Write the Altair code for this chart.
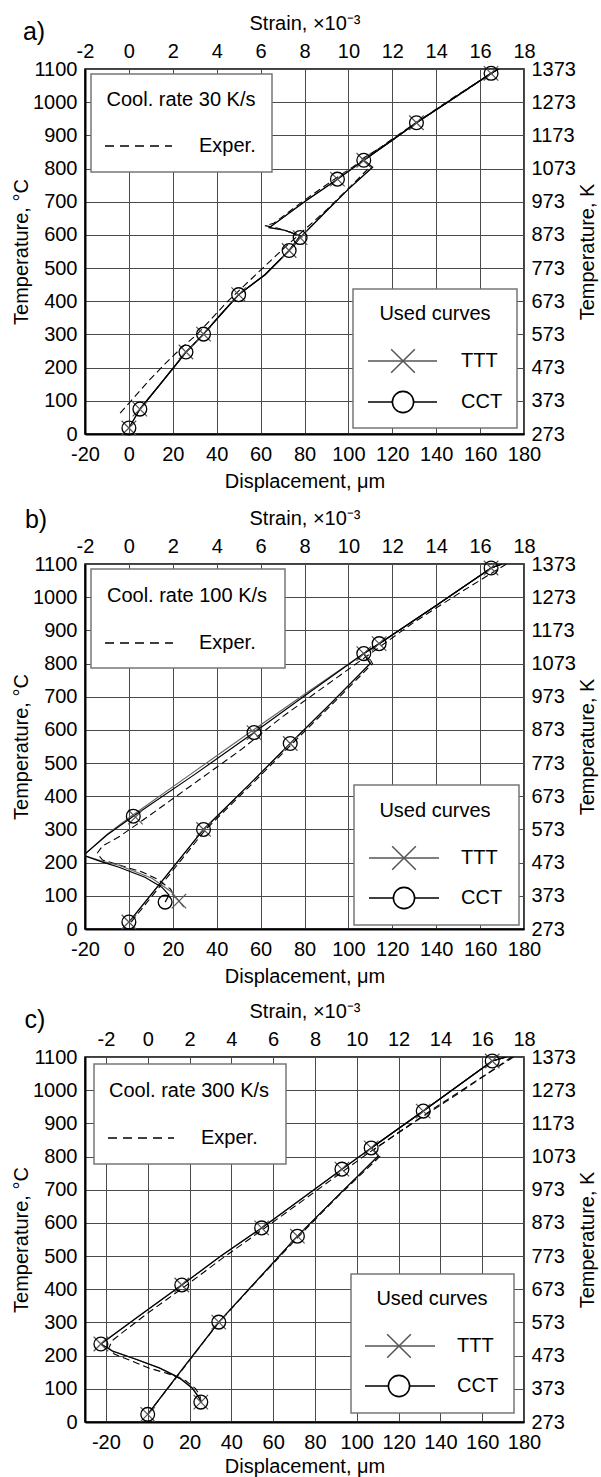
import altair as alt
import pandas as pd

FONT = "Liberation Sans"
FS = 20

# ---------------- panel a: cooling rate 30 K/s ----------------
A_HEAT_X = [0, 5, 13, 20, 26, 34, 42, 50, 62, 73, 78, 90, 100, 111, 107, 120, 131, 148, 165, 168.5]
A_HEAT_T = [18, 75, 140, 197, 247, 301, 362, 420, 480, 553, 592, 672, 738, 804, 825, 885, 938, 1012, 1087, 1100]
A_COOL_X = [168.5, 165, 131, 107, 95, 80, 64, 71, 78, 73, 62, 50, 34, 26, 13, 5]
A_COOL_T = [1100, 1087, 938, 825, 768, 700, 622, 614, 597, 553, 480, 420, 301, 247, 140, 75]
A_EXP_HEAT_X = [-4, 1, 9, 17, 24, 31, 38, 45, 53, 61, 69, 76, 90, 100, 110, 106, 120, 131, 148, 166]
A_EXP_HEAT_T = [63, 100, 160, 215, 260, 300, 350, 400, 450, 500, 550, 592, 675, 740, 806, 828, 885, 938, 1012, 1090]
A_EXP_COOL_X = [166, 148, 130, 117, 105, 93, 79, 66, 62, 68, 76, 80]
A_EXP_COOL_T = [1090, 1015, 935, 875, 818, 765, 700, 635, 628, 620, 603, 590]
A_MARK_X = [0, 5, 26, 34, 50, 73, 78, 95, 107, 131, 165]
A_MARK_T = [18, 75, 247, 301, 420, 553, 592, 768, 825, 938, 1087]

# ---------------- panel b: cooling rate 100 K/s ----------------
B_HEAT_X = [0, 17, 34, 54, 73.5, 92, 110, 107, 114, 140, 165, 170]
B_HEAT_T = [21, 160, 300, 430, 559, 680, 800, 830, 860, 975, 1088, 1100]
B_CCT_COOL_X = [170, 165, 140, 114, 107, 82, 57, 30, 2, -10, -20.7, -13, -4.5, 7.3, 15, 18.3, 16.5]
B_CCT_COOL_T = [1100, 1088, 975, 860, 830, 712, 592, 466, 340, 283, 222, 204, 186, 156, 126, 102, 81]
B_TTT_COOL_X = [170, 165, 140, 114, 107, 81, 55, 28, 1, -10, -20.7, -12, -4.5, 10.5, 19.6, 25]
B_TTT_COOL_T = [1100, 1088, 975, 860, 830, 712, 592, 466, 340, 285, 222, 204, 192, 153, 111, 66]
B_EXP_HEAT_X = [1, 18, 35, 55, 74.5, 93, 111, 109]
B_EXP_HEAT_T = [21, 160, 300, 430, 559, 680, 800, 822]
B_EXP_COOL_X = [172, 150, 130, 110, 90, 70, 51, 30, 10, -4, -12, -14.5, -12, -4, 6, 13, 19, 21]
B_EXP_COOL_T = [1100, 1010, 925, 830, 735, 640, 540, 440, 345, 280, 250, 228, 208, 192, 172, 150, 120, 95]
B_CIRC_X = [0, 34, 73.5, 57, 2, 16.5, 107, 114, 165]
B_CIRC_T = [21, 300, 559, 592, 340, 81, 830, 860, 1088]
B_CROSS_X = [0, 34, 73.5, 57, 3, 22.8, 107, 114, 165]
B_CROSS_T = [21, 300, 559, 592, 337, 84, 830, 860, 1088]

# ---------------- panel c: cooling rate 300 K/s ----------------
C_HEAT_X = [0, 17, 34, 53, 71.6, 91, 110.3, 107, 131.8, 164.8, 171.6]
C_HEAT_T = [23, 163, 301, 432, 560, 682, 802, 826, 937, 1088, 1100]
C_CCT_COOL_X = [171.6, 164.8, 131.8, 106.9, 92.9, 73, 54.5, 35, 16.3, -3, -22.4, -17, -6, 5.5, 15, 21.3, 24.6, 25.4]
C_CCT_COOL_T = [1100, 1088, 937, 826, 762, 670, 585, 500, 413, 325, 235, 214, 190, 163, 133, 102, 72, 60]
C_TTT_COOL_X = [171.6, 164.8, 131.8, 106.9, 92.9, 73, 54.5, 35, 16.3, -3, -22.4, -16, -5, 6, 15.5, 21.5, 24.8, 26]
C_TTT_COOL_T = [1100, 1088, 937, 826, 762, 670, 585, 500, 413, 325, 235, 212, 188, 162, 133, 102, 72, 58]
C_EXP_HEAT_X = [0, 17, 34, 53, 72, 91, 111, 108, 125, 145, 165, 174]
C_EXP_HEAT_T = [23, 161, 300, 430, 558, 680, 800, 820, 893, 975, 1060, 1100]
C_EXP_COOL_X = [175, 160, 140, 120, 105, 90, 73, 55, 35, 17, 0, -12, -17, -18.6, -16, 0.5, 10, 18, 23, 25, 25.5]
C_EXP_COOL_T = [1100, 1040, 958, 873, 808, 740, 662, 580, 490, 405, 328, 270, 245, 223, 205, 163, 145, 125, 100, 78, 62]
C_MARK_X = [0, 34, 71.6, 54.5, 16.3, -22.4, 25.4, 92.9, 106.9, 131.8, 164.8]
C_MARK_T = [23, 301, 560, 585, 413, 235, 60, 762, 826, 937, 1088]

TEMP_C_TICKS = list(range(0, 1101, 100))
TEMP_K_TICKS = list(range(273, 1374, 100))
STRAIN_TICKS = list(range(-2, 19, 2))
DISP_TICKS = list(range(-20, 181, 20))

X_SHAPE = "M-1,-1L1,1M-1,1L1,-1"
DUMMY = pd.DataFrame({"k": [0]})
PLAIN = "toString(datum.value)"  # plain hyphen for negative tick labels


def curves(*segments):
    rows = []
    for seg, (xs, ts) in enumerate(segments):
        for i, (x, t) in enumerate(zip(xs, ts)):
            rows.append({"seg": seg, "i": i, "disp": x, "temp": t})
    return pd.DataFrame(rows)


def points(xs, ts):
    return pd.DataFrame({"disp": xs, "temp": ts})


def panel(letter, rate, cct, ttt, exp, circ, cross, xdom, sdom, lay, bottom_pad=7):
    xscale = alt.Scale(domain=xdom, nice=False, zero=False)
    yscale = alt.Scale(domain=[0, 1100], nice=False, zero=False)
    xaxis = alt.Axis(orient="bottom", values=DISP_TICKS, title="Displacement, μm",
                     labelExpr=PLAIN, grid=True, gridColor="#4a4a4a", gridWidth=1,
                     ticks=False, labelPadding=10, titlePadding=bottom_pad, labelFlush=False,
                     labelOverlap=False, domainColor="black", domainWidth=2)
    yaxis = alt.Axis(orient="left", values=TEMP_C_TICKS, title="Temperature, °C",
                     labelExpr=PLAIN, grid=True, gridColor="#4a4a4a", gridWidth=1,
                     ticks=False, labelPadding=8, titlePadding=1, labelFlush=False,
                     labelOverlap=False, domainColor="black", domainWidth=2)
    enc = dict(x=alt.X("disp:Q", scale=xscale, axis=xaxis),
               y=alt.Y("temp:Q", scale=yscale, axis=yaxis))

    def line(df, color, width=1.2, dash=None):
        kw = dict(color=color, strokeWidth=width, clip=True)
        if dash:
            kw["strokeDash"] = dash
        return alt.Chart(df).mark_line(**kw).encode(detail="seg:N", order="i:Q", **enc)

    layers = [
        line(exp, "black", 1.1, [7, 4]),
        line(ttt, "#666666", 1.2),
        line(cct, "black", 1.2),
        alt.Chart(cross).mark_point(shape=X_SHAPE, filled=False, size=210,
                                    stroke="#555555", strokeWidth=1.2, opacity=1).encode(**enc),
        alt.Chart(circ).mark_point(shape="circle", filled=False, size=190,
                                   stroke="black", strokeWidth=1.3, opacity=1).encode(**enc),
    ]

    def box(x1, x2, y1, y2):
        return alt.Chart(DUMMY).mark_rect(fill="white", stroke="#777777", strokeWidth=1.5).encode(
            x=alt.value(x1), x2=alt.value(x2), y=alt.value(y1), y2=alt.value(y2))

    def text(s, x, y, align="center", size=FS):
        return alt.Chart(DUMMY).mark_text(text=s, font=FONT, fontSize=size, align=align,
                                          baseline="middle", color="black").encode(
            x=alt.value(x), y=alt.value(y))

    def hrule(x1, x2, y, color="black", dash=None, width=1.3):
        kw = dict(color=color, strokeWidth=width)
        if dash:
            kw["strokeDash"] = dash
        return alt.Chart(DUMMY).mark_rule(**kw).encode(
            x=alt.value(x1), x2=alt.value(x2), y=alt.value(y))

    (b1x1, b1x2, b1y1, b1y2, tcx, tcy, dx1, dx2, dy, ex) = lay["box1"]
    (b2x1, b2x2, b2y1, b2y2, ucx, ucy, lx1, lx2, mx, ty, cy, tx) = lay["box2"]
    layers += [
        box(b1x1, b1x2, b1y1, b1y2),
        text(f"Cool. rate {rate} K/s", tcx, tcy),
        hrule(dx1, dx2, dy, dash=[9, 6], width=1.3),
        text("Exper.", ex, dy, align="left"),
        box(b2x1, b2x2, b2y1, b2y2),
        text("Used curves", ucx, ucy),
        hrule(lx1, lx2, ty, color="#555555"),
        alt.Chart(DUMMY).mark_point(shape=X_SHAPE, filled=False, size=560, stroke="#555555",
                                    strokeWidth=1.5, opacity=1).encode(
            x=alt.value(mx), y=alt.value(ty)),
        text("TTT", tx, ty, align="left"),
        hrule(lx1, lx2, cy, color="black"),
        alt.Chart(DUMMY).mark_point(shape="circle", filled=True, fill="white", size=450,
                                    stroke="black", strokeWidth=1.6, opacity=1).encode(
            x=alt.value(mx), y=alt.value(cy)),
        text("CCT", tx, cy, align="left"),
        text(letter, lay["letter"][0], lay["letter"][1], size=25),
    ]
    inner = alt.layer(*layers)

    frame = pd.DataFrame({"s": sdom, "k": [273, 1373]})
    secondary = alt.Chart(frame).mark_point(opacity=0).encode(
        x=alt.X("s:Q", scale=alt.Scale(domain=sdom, nice=False, zero=False),
                axis=alt.Axis(orient="top", values=STRAIN_TICKS, title="Strain, ×10⁻³",
                              labelExpr=PLAIN, grid=False, ticks=False, labelPadding=8,
                              titlePadding=8, labelFlush=False, labelOverlap=False,
                              domain=False)),
        y=alt.Y("k:Q", scale=alt.Scale(domain=[273, 1373], nice=False, zero=False),
                axis=alt.Axis(orient="right", values=TEMP_K_TICKS, title="Temperature, K",
                              labelExpr=PLAIN, grid=False, ticks=False, labelPadding=7,
                              titlePadding=2, titleAngle=270, titleBaseline="top",
                              labelFlush=False, labelOverlap=False, domain=False)),
    )
    return alt.layer(inner, secondary).resolve_scale(
        x="independent", y="independent").properties(width=439, height=365)


pa = panel(
    "a)", 30,
    curves((A_HEAT_X, A_HEAT_T), (A_COOL_X, A_COOL_T)),
    curves((A_HEAT_X, A_HEAT_T), (A_COOL_X, A_COOL_T)),
    curves((A_EXP_HEAT_X, A_EXP_HEAT_T), (A_EXP_COOL_X, A_EXP_COOL_T)),
    points(A_MARK_X, A_MARK_T), points(A_MARK_X, A_MARK_T),
    [-20, 180], [-2, 18],
    {"box1": (6, 187, 5, 103, 96, 31, 20, 87, 77, 114),
     "box2": (268, 432, 220, 359, 350, 245, 283, 352, 318, 292, 333, 376),
     "letter": (-51, -37)},
)
pb = panel(
    "b)", 100,
    curves((B_HEAT_X, B_HEAT_T), (B_CCT_COOL_X, B_CCT_COOL_T)),
    curves((B_HEAT_X, B_HEAT_T), (B_TTT_COOL_X, B_TTT_COOL_T)),
    curves((B_EXP_HEAT_X, B_EXP_HEAT_T), (B_EXP_COOL_X, B_EXP_COOL_T)),
    points(B_CIRC_X, B_CIRC_T), points(B_CROSS_X, B_CROSS_T),
    [-20, 180], [-2, 18],
    {"box1": (6, 200, 5, 104, 102, 32, 20, 88, 79, 114),
     "box2": (269, 434, 221, 361, 350, 247, 284, 354, 319, 294, 334, 376),
     "letter": (-49, -44)},
)
pc = panel(
    "c)", 300,
    curves((C_HEAT_X, C_HEAT_T), (C_CCT_COOL_X, C_CCT_COOL_T)),
    curves((C_HEAT_X, C_HEAT_T), (C_TTT_COOL_X, C_TTT_COOL_T)),
    curves((C_EXP_HEAT_X, C_EXP_HEAT_T), (C_EXP_COOL_X, C_EXP_COOL_T)),
    points(C_MARK_X, C_MARK_T), points(C_MARK_X, C_MARK_T),
    [-30, 180], [-3, 18],
    {"box1": (9, 201, 7, 107, 104, 34, 23, 89, 81, 116),
     "box2": (266, 429, 217, 356, 347, 242, 280, 350, 314, 289, 329, 372),
     "letter": (-50, -37)},
    bottom_pad=4,
)

chart = alt.vconcat(alt.vconcat(pa, pb, spacing=15), pc, spacing=13).configure_view(
    stroke="black", strokeWidth=1.5
).configure_axis(
    labelFont=FONT, titleFont=FONT, labelFontSize=FS, titleFontSize=20,
    labelColor="black", titleColor="black", titleFontWeight="normal"
).properties(
    padding={"left": 10, "top": 12, "right": 2, "bottom": 0},
    background="white",
)

chart.save("out.html", embed_options={"renderer": "svg", "actions": False})
